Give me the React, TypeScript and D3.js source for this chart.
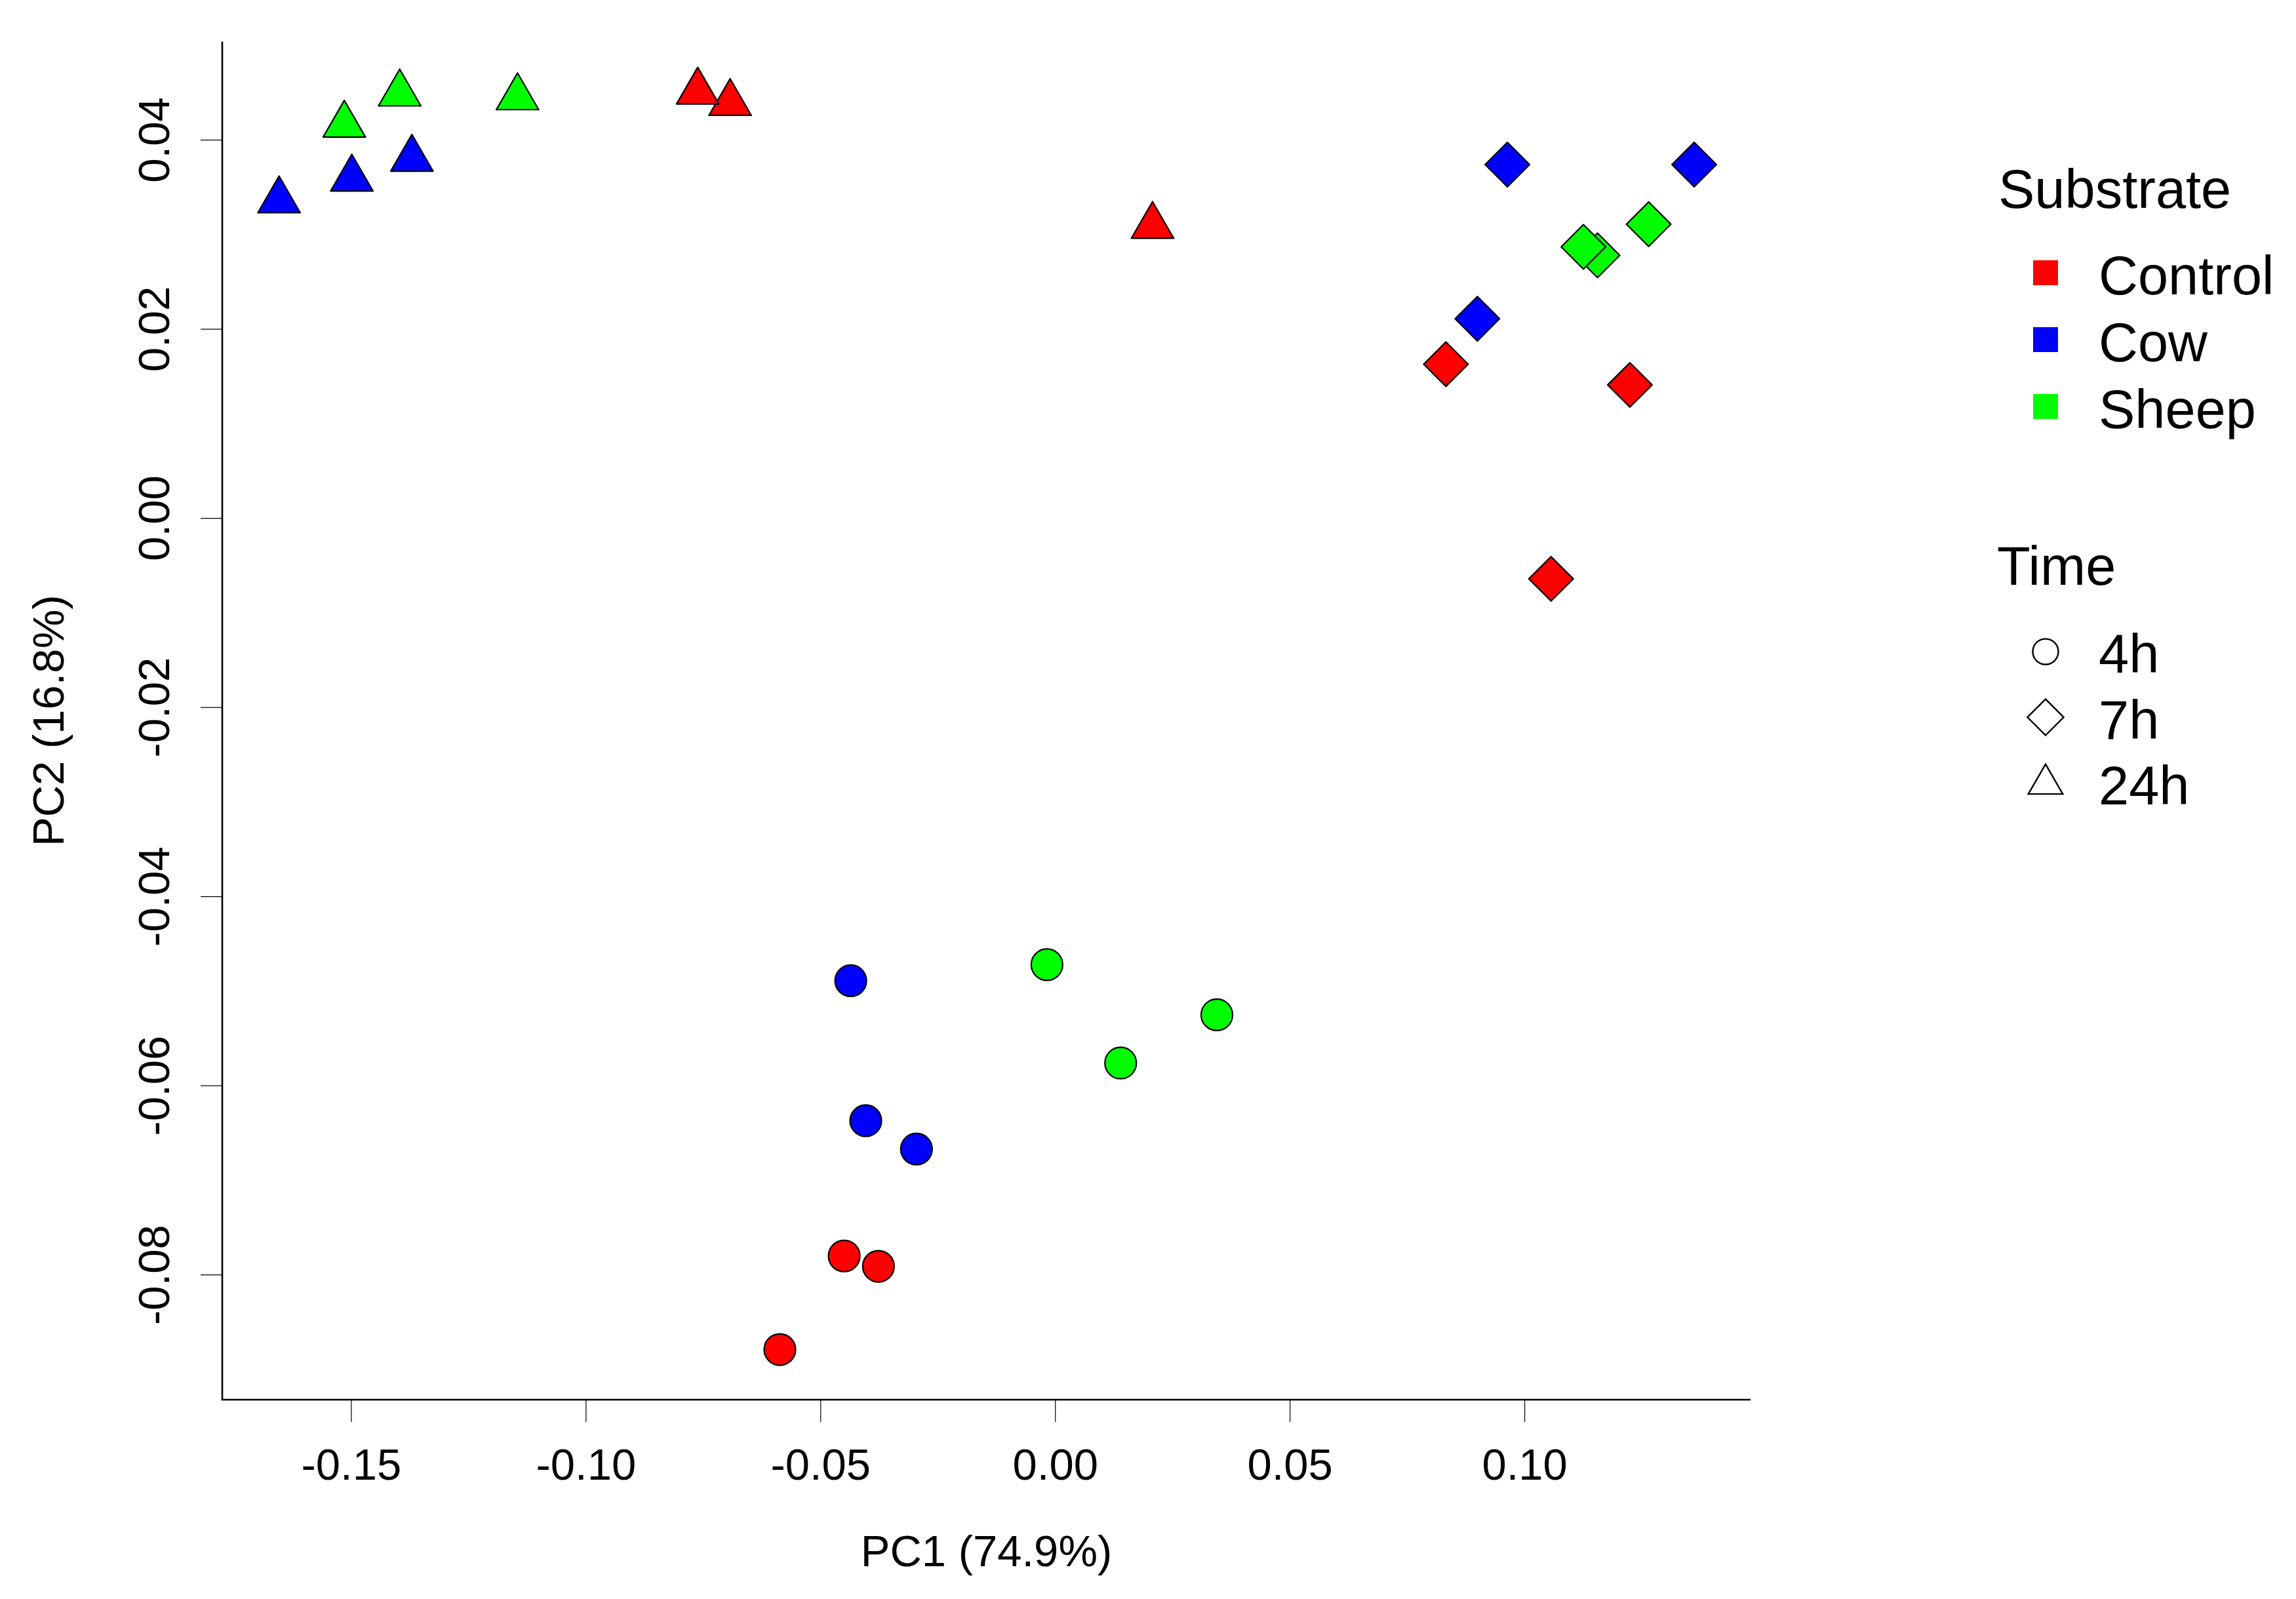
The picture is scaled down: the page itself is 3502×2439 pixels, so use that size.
import * as d3 from 'd3'

// PCA scores, one entry per sample
const substrate = [
  'Control', 'Control', 'Control',
  'Cow', 'Cow', 'Cow',
  'Sheep', 'Sheep', 'Sheep',
  'Control', 'Control', 'Control',
  'Cow', 'Cow', 'Cow',
  'Sheep', 'Sheep', 'Sheep',
  'Control', 'Control', 'Control',
  'Cow', 'Cow', 'Cow',
  'Sheep', 'Sheep', 'Sheep',
]
const time = [
  '4h', '4h', '4h', '4h', '4h', '4h', '4h', '4h', '4h',
  '7h', '7h', '7h', '7h', '7h', '7h', '7h', '7h', '7h',
  '24h', '24h', '24h', '24h', '24h', '24h', '24h', '24h', '24h',
]
const pc1 = [
  -0.0587, -0.045, -0.0377,
  -0.0436, -0.0404, -0.0296,
  -0.0018, 0.0344, 0.0139,
  0.0832, 0.1224, 0.1056,
  0.0963, 0.1361, 0.0899,
  0.1264, 0.1155, 0.1125,
  0.0207, -0.0693, -0.0762,
  -0.1654, -0.1499, -0.1371,
  -0.1515, -0.1397, -0.1146,
]
const pc2 = [
  -0.0879, -0.078, -0.0791,
  -0.0489, -0.0637, -0.0667,
  -0.0472, -0.0525, -0.0576,
  0.0163, 0.0141, -0.0064,
  0.0374, 0.0374, 0.0211,
  0.0311, 0.0278, 0.0287,
  0.0309, 0.0439, 0.0451,
  0.0336, 0.0359, 0.038,
  0.0416, 0.0449, 0.0445,
]

const substrates = ['Control', 'Cow', 'Sheep']
const substrateColors = ['#ff0000', '#0000ff', '#00ff00']
const times = ['4h', '7h', '24h']
const xTicks = [-0.15, -0.1, -0.05, 0, 0.05, 0.1]
const yTicks = [-0.08, -0.06, -0.04, -0.02, 0, 0.02, 0.04]

const width = 3502
const height = 2439
const marginLeft = 339
const marginRight = 832
const marginTop = 63.5
const marginBottom = 304
const font = 'Liberation Sans, Arial, sans-serif'

// R-style pch 21/23/24 outlines, r is the symbol radius
function symbolPath(t: string, cx: number, cy: number, r: number) {
  if (t === '4h') {
    const p = d3.path()
    p.arc(cx, cy, r, 0, Math.PI * 2)
    return p.toString()
  }
  if (t === '7h') {
    const d = r * Math.SQRT2
    return `M${cx},${cy - d}L${cx + d},${cy}L${cx},${cy + d}L${cx - d},${cy}Z`
  }
  const hw = 1.3468 * r
  return `M${cx},${cy - 1.5551 * r}L${cx + hw},${cy + 0.7776 * r}L${cx - hw},${cy + 0.7776 * r}Z`
}

export default function App() {
  const x = d3.scaleLinear([-0.1775, 0.1481], [marginLeft, width - marginRight])
  const y = d3.scaleLinear([-0.0932, 0.0504], [height - marginBottom, marginTop])
  const color = d3.scaleOrdinal<string, string>(substrates, substrateColors)

  const x0 = marginLeft
  const y0 = height - marginBottom
  const [xa, xb] = x.range()

  return (
    <svg
      width={width}
      height={height}
      style={{ position: 'absolute', left: 0, top: 0, background: '#fff' }}
      fontFamily={font}
    >
      <rect width={width} height={height} fill="#fff" />

      {/* points */}
      {pc1.map((v, i) => (
        <path
          key={i}
          d={symbolPath(time[i], x(v), y(pc2[i]), 24)}
          fill={color(substrate[i])}
          stroke="#000"
          strokeWidth={2.2}
          strokeLinejoin="round"
        />
      ))}

      {/* axes */}
      <line x1={x0} x2={x0} y1={y.range()[1]} y2={y0} stroke="#000" strokeWidth={2.6} />
      <line x1={xa - 1.3} x2={xb} y1={y0} y2={y0} stroke="#000" strokeWidth={2.6} />
      {xTicks.map((t) => (
        <g key={t}>
          <line x1={x(t)} x2={x(t)} y1={y0} y2={y0 + 34} stroke="#000" strokeWidth={1.2} />
          <text x={x(t)} y={2257} fontSize={67} textAnchor="middle">
            {t.toFixed(2)}
          </text>
        </g>
      ))}
      {yTicks.map((t) => (
        <g key={t}>
          <line x1={x0 - 33} x2={x0} y1={y(t)} y2={y(t)} stroke="#000" strokeWidth={1.2} />
          <text
            transform={`translate(258,${y(t)}) rotate(-90)`}
            fontSize={67}
            textAnchor="middle"
          >
            {t.toFixed(2)}
          </text>
        </g>
      ))}
      <text x={(xa + xb) / 2} y={2389} fontSize={67} textAnchor="middle">
        PC1 (74.9%)
      </text>
      <text
        transform={`translate(97,${(y.range()[0] + y.range()[1]) / 2}) rotate(-90)`}
        fontSize={67}
        textAnchor="middle"
      >
        PC2 (16.8%)
      </text>

      {/* legend: substrate */}
      <text x={3048} y={317} fontSize={83}>
        Substrate
      </text>
      {substrates.map((s, i) => (
        <g key={s}>
          <rect x={3101} y={397 + i * 102} width={38} height={38} fill={color(s)} />
          <text x={3201} y={449 + i * 102} fontSize={83}>
            {s}
          </text>
        </g>
      ))}

      {/* legend: time */}
      <text x={3046} y={892} fontSize={83}>
        Time
      </text>
      {times.map((t, i) => (
        <g key={t}>
          <path
            d={symbolPath(t, 3120, i === 2 ? 1196 : 994 + i * 100, 19.5)}
            fill="none"
            stroke="#000"
            strokeWidth={2.4}
          />
          <text x={3201} y={1026 + i * 100.5} fontSize={83}>
            {t}
          </text>
        </g>
      ))}
    </svg>
  )
}
